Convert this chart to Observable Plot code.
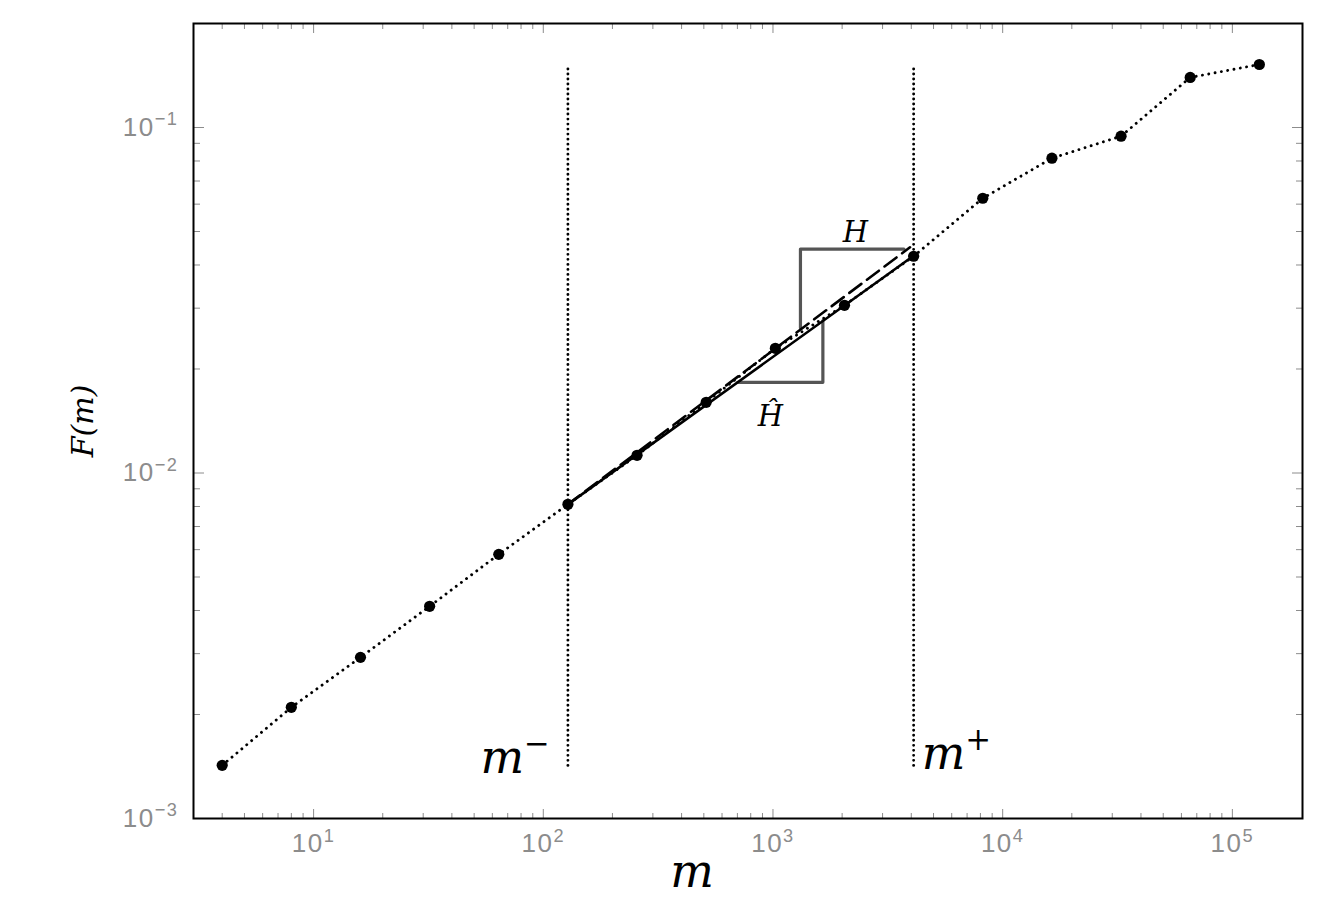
<!DOCTYPE html>
<html>
<head>
<meta charset="utf-8">
<script src="https://cdn.jsdelivr.net/npm/d3@7"></script>
<script src="https://cdn.jsdelivr.net/npm/@observablehq/plot@0.6"></script>
<style>
  html, body { margin: 0; padding: 0; background: #fff; }
</style>
</head>
<body>
<div id="chart"></div>
<script>
// ---- data ----
const mValues = [4, 8, 16, 32, 64, 128, 256, 512, 1024, 2048, 4096, 8192, 16384, 32768, 65536, 131072];
const fValues = [0.001425, 0.002098, 0.002927, 0.004113, 0.005815, 0.008116, 0.01125, 0.01602, 0.02296, 0.03058, 0.04240, 0.06240, 0.08149, 0.09437, 0.1396, 0.1522];

// scaling-range bounds m- and m+
const boundM = [128, 4096];
const boundF = [0.00142, 0.152];

// fitted line (slope H-hat, solid) and reference line (slope H, dashed)
const fitHatM = [128, 4096];
const fitHatF = [0.008116, 0.04256];
const fitHM = [128, 3950];
const fitHF = [0.008116, 0.0450];

// slope triangles
const triHM = [1317, 1317, 3718];
const triHF = [0.0263, 0.04447, 0.04447];
const triHatM = [702, 1649, 1649];
const triHatF = [0.0183, 0.0183, 0.0276];

// ticks
const xMajorTicks = [10, 100, 1000, 10000, 100000];
const xMinorTicks = [4, 5, 6, 7, 8, 9, 20, 30, 40, 50, 60, 70, 80, 90,
  200, 300, 400, 500, 600, 700, 800, 900, 2000, 3000, 4000, 5000, 6000, 7000, 8000, 9000,
  20000, 30000, 40000, 50000, 60000, 70000, 80000, 90000];
const yMajorTicks = [0.001, 0.01, 0.1];
const yMinorTicks = [0.002, 0.003, 0.004, 0.005, 0.006, 0.007, 0.008, 0.009,
  0.02, 0.03, 0.04, 0.05, 0.06, 0.07, 0.08, 0.09];

// labels / annotations
const xLabel = "m";
const yLabel = "F(m)";
const annotations = [
  {label: "m^−", m: 128, F: 0.00149, side: "left"},
  {label: "m^+", m: 4096, F: 0.00153, side: "right"},
  {label: "H", m: 2287, F: 0.04953, side: "center"},
  {label: "Ĥ", m: 975, F: 0.01459, side: "center"}
];

// ---- build rows ----
const rows = (ms, fs) => ms.map((m, i) => ({m, F: fs[i]}));
const points = rows(mValues, fValues);
const fitHat = rows(fitHatM, fitHatF);
const fitH = rows(fitHM, fitHF);
const triH = rows(triHM, triHF);
const triHat = rows(triHatM, triHatF);

const fmt = d => {
  const e = Math.round(Math.log10(d));
  return "10^" + (e < 0 ? "−" + (-e) : String(e));
};

const tickGray = "#8c8c8c";
const labelFont = "Liberation Sans, Arial, sans-serif";
const mathFont = "DejaVu Serif, serif";
const TICK_FONT = 26;

function tickMarks(values, size) {
  const base = {stroke: tickGray, strokeWidth: 1, fill: "none", label: null, tickSize: size};
  return [
    Plot.axisX(values.x, {...base, anchor: "top", frameAnchor: "bottom"}),
    Plot.axisX(values.x, {...base, anchor: "bottom", frameAnchor: "top"}),
    Plot.axisY(values.y, {...base, anchor: "right", frameAnchor: "left"}),
    Plot.axisY(values.y, {...base, anchor: "left", frameAnchor: "right"})
  ];
}

const mathText = {fontStyle: "italic", fontFamily: mathFont, fill: "black", lineAnchor: "middle"};

const svg = Plot.plot({
  width: 1332,
  height: 905,
  marginLeft: 193,
  marginRight: 30,
  marginTop: 23,
  marginBottom: 87,
  style: {fontFamily: labelFont, background: "#fff", overflow: "visible"},
  x: {type: "log", domain: [3, 202000]},
  y: {type: "log", domain: [0.001, 0.2]},
  marks: [
    // tick labels
    Plot.axisX(xMajorTicks, {anchor: "bottom", tickSize: 0, tickPadding: 15, tickFormat: fmt,
      fill: tickGray, fontSize: TICK_FONT, label: null}),
    Plot.axisY(yMajorTicks, {anchor: "left", tickSize: 0, tickPadding: 15, tickFormat: fmt,
      fill: tickGray, fontSize: TICK_FONT, label: null}),
    // inward ticks on all four sides
    ...tickMarks({x: xMajorTicks, y: yMajorTicks}, 10),
    ...tickMarks({x: xMinorTicks, y: yMinorTicks}, 6),
    Plot.frame({stroke: "black", strokeWidth: 2}),
    // bounds m- and m+
    Plot.ruleX(boundM, {y1: boundF[0], y2: boundF[1], stroke: "black", strokeWidth: 2.9,
      strokeDasharray: "0.01,5", strokeLinecap: "round"}),
    // slope triangles
    Plot.line(triH, {x: "m", y: "F", stroke: "#555", strokeWidth: 3.2}),
    Plot.line(triHat, {x: "m", y: "F", stroke: "#555", strokeWidth: 3.2}),
    // data (dotted)
    Plot.line(points, {x: "m", y: "F", stroke: "black", strokeWidth: 2.9,
      strokeDasharray: "0.01,6.4", strokeLinecap: "round"}),
    // fits
    Plot.line(fitHat, {x: "m", y: "F", stroke: "black", strokeWidth: 2.6}),
    Plot.line(fitH, {x: "m", y: "F", stroke: "black", strokeWidth: 2.6, strokeDasharray: "15,7"}),
    Plot.dot(points, {x: "m", y: "F", r: 5.6, fill: "black"}),
    // annotations
    Plot.text(annotations.filter(d => d.side === "left"), {x: "m", y: "F", text: "label",
      textAnchor: "end", dx: -18, fontSize: 46, ...mathText}),
    Plot.text(annotations.filter(d => d.side === "right"), {x: "m", y: "F", text: "label",
      textAnchor: "start", dx: 8, fontSize: 46, ...mathText}),
    Plot.text(annotations.filter(d => d.side === "center"), {x: "m", y: "F", text: "label",
      textAnchor: "middle", fontSize: 29, ...mathText}),
    // axis labels
    Plot.text([xLabel], {text: d => d, frameAnchor: "bottom", textAnchor: "middle", dx: -56, dy: 54,
      fontSize: 46, ...mathText}),
    Plot.text([yLabel], {text: d => d, frameAnchor: "left", textAnchor: "middle", dx: -110, rotate: -90,
      fontSize: 30, ...mathText})
  ]
});

document.getElementById("chart").append(svg);

// turn "base^exp" into real superscripts
const NS = "http://www.w3.org/2000/svg";
svg.querySelectorAll("text").forEach(t => {
  const s = t.textContent;
  if (!s.includes("^")) return;
  const [base, exp] = s.split("^");
  const isTick = base === "10";
  const fs = isTick ? TICK_FONT : (parseFloat(getComputedStyle(t).fontSize) || 46);
  if (isTick) {
    t.setAttribute("font-size", fs);
    t.style.fontSize = fs + "px";
    t.style.letterSpacing = "1.5px";
  }
  t.textContent = "";
  const a = document.createElementNS(NS, "tspan");
  a.textContent = base;
  a.setAttribute("font-size", fs + "px");
  const b = document.createElementNS(NS, "tspan");
  b.textContent = exp;
  b.setAttribute("font-size", (fs * (isTick ? 0.7 : 0.67)).toFixed(1) + "px");
  b.setAttribute("dy", (-(isTick ? 0.4 : 0.42) * fs).toFixed(1) + "px");
  t.append(a, b);
});
</script>
</body>
</html>
